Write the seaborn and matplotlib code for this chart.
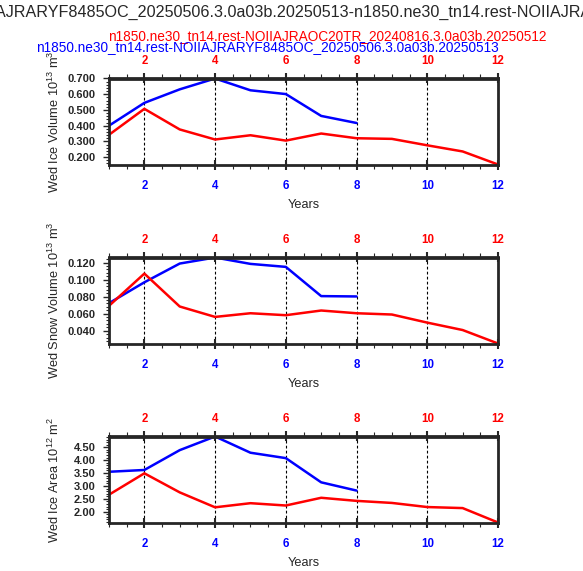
import matplotlib
matplotlib.use("Agg")
import matplotlib.pyplot as plt
import seaborn as sns
import pandas as pd
from matplotlib.ticker import MultipleLocator, FormatStrFormatter

# case names
case_a = "n1850.ne30_tn14.rest-NOIIAJRARYF8485OC_20250506.3.0a03b.20250513"
case_b = "n1850.ne30_tn14.rest-NOIIAJRAOC20TR_20240816.3.0a03b.20250512"

years_a = list(range(1, 9))
years_b = list(range(1, 13))

# values
ice_vol_a = [0.400, 0.545, 0.631, 0.700, 0.625, 0.601, 0.462, 0.417]
ice_vol_b = [0.342, 0.507, 0.376, 0.312, 0.339, 0.305, 0.350, 0.320, 0.316, 0.275, 0.236, 0.153]
snow_vol_a = [0.0723, 0.0968, 0.1188, 0.1259, 0.1184, 0.1149, 0.0806, 0.0802]
snow_vol_b = [0.0692, 0.1070, 0.0684, 0.0562, 0.0605, 0.0582, 0.0637, 0.0605, 0.0590, 0.0495, 0.0408, 0.0250]
ice_area_a = [3.55, 3.62, 4.39, 4.92, 4.29, 4.08, 3.14, 2.82]
ice_area_b = [2.66, 3.49, 2.75, 2.17, 2.33, 2.24, 2.54, 2.42, 2.34, 2.18, 2.14, 1.58]

ylabels = ["Wed Ice Volume 10$^{13}$ m$^{3}$",
           "Wed Snow Volume 10$^{13}$ m$^{3}$",
           "Wed Ice Area 10$^{12}$ m$^{2}$"]

sns.set_style("ticks")
plt.rcParams['font.family'] = ['Liberation Sans', 'DejaVu Sans']
plt.rcParams['mathtext.fontset'] = 'custom'
plt.rcParams['mathtext.rm'] = 'Liberation Sans'
plt.rcParams['mathtext.it'] = 'Liberation Sans:italic'
plt.rcParams['mathtext.bf'] = 'Liberation Sans:bold'

W, H = 583, 571
fig = plt.figure(figsize=(W / 100, H / 100), dpi=100)
renderer = fig.canvas.get_renderer()


def text_width(s, size):
    t = fig.text(0, 0, s, fontsize=size)
    w = t.get_window_extent(renderer).width
    t.remove()
    return w


# titles
title = case_a + "-" + case_b
visible = "AJRARYF8485OC_20250506.3.0a03b.20250513-n1850.ne30_tn14.rest-NOIIAJRA"
fs_title = 10 * 594 / text_width(visible, 10)
x0 = -4 - text_width("n1850.ne30_tn14.rest-NOII", fs_title)
fig.text(x0 / W, 1 - 12.5 / H, title, fontsize=fs_title, ha='left', va='center')

fs_sub = 10 * 464 / text_width(case_a, 10)
fig.text(108 / W, 1 - 36 / H, case_b, fontsize=fs_sub, color='#FF0000', ha='left', va='center')
fig.text(36 / W, 1 - 47 / H, case_a, fontsize=fs_sub, color='#0000FF', ha='left', va='center')

panels = [
    (ice_vol_a, ice_vol_b, 0.1, 0.02, '%.3f', 78.5),
    (snow_vol_a, snow_vol_b, 0.02, 0.004, '%.3f', 257.5),
    (ice_area_a, ice_area_b, 0.5, 0.1, '%.2f', 436.5),
]

left_px, right_px, h_px = 109, 498, 86
for i, (va_, vb_, major, minor, fmt, top_px) in enumerate(panels):
    ax = fig.add_axes([left_px / W, 1 - (top_px + h_px) / H, (right_px - left_px) / W, h_px / H])
    df = pd.concat([
        pd.DataFrame({"year": years_a, "value": va_, "case": "a"}),
        pd.DataFrame({"year": years_b, "value": vb_, "case": "b"}),
    ])
    sns.lineplot(data=df, x="year", y="value", hue="case",
                 palette={"a": "#0000FF", "b": "#FF0000"}, linewidth=1.8,
                 legend=False, ax=ax)
    ax.set_xlim(1, 12)
    ax.set_ylim(min(va_ + vb_), max(va_ + vb_))

    ax.xaxis.set_major_locator(MultipleLocator(2))
    ax.xaxis.set_minor_locator(MultipleLocator(0.5))
    ax.yaxis.set_major_locator(MultipleLocator(major))
    ax.yaxis.set_minor_locator(MultipleLocator(minor))
    ax.yaxis.set_major_formatter(FormatStrFormatter(fmt))

    ax.grid(axis='x', which='major', color='black', linestyle=(0, (2.5, 2)), linewidth=0.8)
    for sp in ax.spines.values():
        sp.set_linewidth(2)
        sp.set_visible(True)

    ax.tick_params(axis='y', which='major', direction='out', length=4.5, width=1,
                   labelsize=8, pad=5, right=False)
    ax.tick_params(axis='y', which='minor', direction='out', length=2.5, width=0.8, right=False)
    ax.tick_params(axis='x', which='major', direction='inout', length=7, width=1.5,
                   labelsize=8.3, labelcolor='#0000FF', pad=8)
    ax.tick_params(axis='x', which='minor', direction='out', length=3, width=0.8)

    sec = ax.secondary_xaxis('top')
    sec.xaxis.set_major_locator(MultipleLocator(2))
    sec.xaxis.set_minor_locator(MultipleLocator(0.5))
    sec.spines['top'].set_linewidth(2)
    sec.tick_params(axis='x', which='major', direction='inout', length=7, width=1.5,
                    labelsize=8.3, labelcolor='#FF0000', pad=5)
    sec.tick_params(axis='x', which='minor', direction='out', length=3, width=0.8)

    for lab in ax.get_xticklabels() + ax.get_yticklabels() + sec.get_xticklabels():
        lab.set_fontweight('bold')

    ax.set_xlabel("Years", fontsize=9.2, labelpad=5)
    ax.set_ylabel(ylabels[i], fontsize=9.2, va='center')
    ax.yaxis.set_label_coords((54 - left_px) / (right_px - left_px), 0.5)

fig.savefig("out.png", dpi=100)
